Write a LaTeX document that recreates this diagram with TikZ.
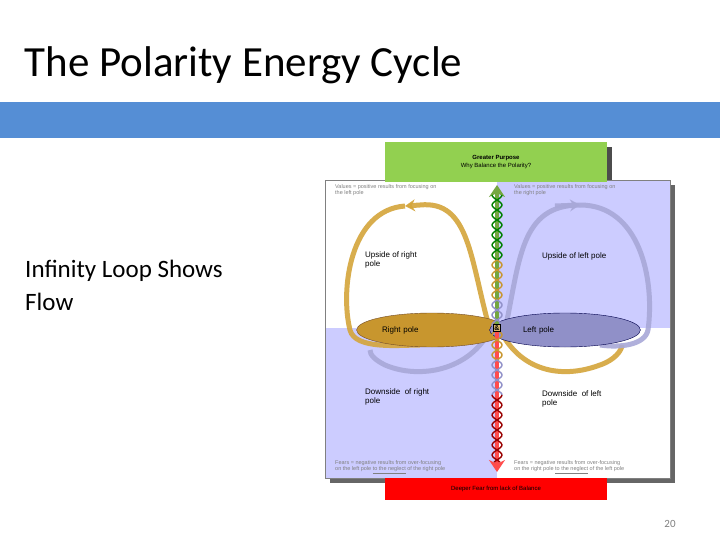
\documentclass[tikz,border=0pt]{standalone}
\usepackage{fontspec}
\usetikzlibrary{arrows.meta,shapes.geometric}
\setmainfont{Carlito}
\newfontfamily\sm{Liberation Sans}
\definecolor{barblue}{HTML}{558ED5}
\definecolor{lav}{HTML}{CCCCFF}
\definecolor{lavd}{HTML}{A8A8D8}
\definecolor{gold}{HTML}{D4A53A}
\definecolor{goldd}{HTML}{C8962E}
\definecolor{grn}{HTML}{92D050}
\definecolor{lpole}{HTML}{9090C8}
\begin{document}
\begin{tikzpicture}[x=1pt,y=-1pt,
  tiny/.style={font=\sm\fontsize{5.5}{6}\selectfont,align=left,anchor=north west,inner sep=0},
  lab/.style={font=\sm\fontsize{8}{9}\selectfont,align=left,anchor=north west,inner sep=0},
  loopg/.style={draw=gold,line width=5pt,opacity=.9},
  loopl/.style={draw=lavd,line width=5pt,opacity=.9}]
\useasboundingbox (0,0) rectangle (720,540);
\fill[white] (0,0) rectangle (720,540);
\node[anchor=west,font=\fontsize{43}{45}\selectfont] (title) at (21,65) {The Polarity Energy Cycle};
\fill[barblue] (0,102) rectangle (720,138);
\node[anchor=north west,align=left,font=\fontsize{25}{33}\selectfont,inner sep=0] (body) at (25,260) {Infinity Loop Shows\\Flow};
% shadows
\fill[black!60] (330,185) rectangle (675,483);
\fill[black!70] (390,147) rectangle (612,185);
% quadrants
\fill[white] (325,180) rectangle (497,328);
\fill[lav] (497,180) rectangle (670,328);
\fill[lav] (325,328) rectangle (497,478);
\fill[white] (497,328) rectangle (670,478);
\draw[gray] (325,180) rectangle (670,478);
% boxes
\node[fill=grn,minimum width=222pt,minimum height=40pt,font=\sm\fontsize{6}{8}\selectfont,align=center] (gp) at (496,162) {\textbf{Greater Purpose}\\Why Balance the Polarity?};
\node[fill=red,minimum width=222pt,minimum height=22pt,font=\sm\fontsize{6}{8}\selectfont] (df) at (496,489) {Deeper Fear from lack of Balance};
% loops
\draw[loopg] (490,330) .. controls (470,260) and (470,200) .. (420,205);
\draw[loopg,-{Stealth[length=10pt,width=12pt]}] (420,205) -- (405,206);
\draw[loopg] (405,206) .. controls (350,210) and (340,290) .. (350,330) .. controls (355,350) and (400,345) .. (420,345);
\draw[loopg] (500,330) .. controls (520,370) and (560,380) .. (600,365) .. controls (615,360) and (622,350) .. (622,345);
\draw[loopl] (505,330) .. controls (520,260) and (520,205) .. (580,205);
\draw[loopl,-{Stealth[length=10pt,width=12pt]}] (555,206) -- (580,205);
\draw[loopl] (580,205) .. controls (640,205) and (655,280) .. (648,330) .. controls (645,345) and (620,348) .. (600,345);
\draw[loopl] (490,330) .. controls (470,370) and (420,380) .. (385,365) .. controls (375,360) and (370,355) .. (370,350);
% poles
\node[ellipse,fill=goldd,draw=brown!60!black,minimum width=130pt,minimum height=34pt,font=\sm\fontsize{8}{9}\selectfont,text width=100pt] (rp) at (432,330) {Right pole};
\node[ellipse,fill=lpole,draw=blue!30!black,minimum width=130pt,minimum height=34pt,font=\sm\fontsize{8}{9}\selectfont,text width=100pt] (lp) at (565,330) {\quad Left pole};
% center arrow with helix
\draw[grn!80!black,line width=4pt,-{Stealth[length=12pt,width=16pt]}] (497,328) -- (497,185);
\draw[red!70,line width=4pt,-{Stealth[length=12pt,width=16pt]}] (497,328) -- (497,472);
\foreach \ya/\yb/\c in {195/260/green!50!black,260/300/goldd,300/328/lpole,328/360/goldd,360/395/lpole,395/462/red!60!black}{
  \draw[\c,line width=1.4pt,domain=\ya:\yb,samples=40,variable=\t] plot ({497+5*sin(\t*18)},\t);
  \draw[\c,line width=1.4pt,domain=\ya:\yb,samples=40,variable=\t] plot ({497-5*sin(\t*18)},\t);
}
\node[draw=black,fill=goldd!70,inner sep=1pt,font=\sm\fontsize{7}{8}\selectfont] (amp) at (497,328) {\textbf{\&}};
% labels
\node[tiny,text=gray] (v1) at (335,184) {Values = positive results from focusing on\\the left pole};
\node[tiny,text=gray] (v2) at (514,184) {Values = positive results from focusing on\\the right pole};
\node[lab] (u1) at (365,252) {Upside of right\\pole};
\node[lab] (u2) at (542,253) {Upside of left pole};
\node[lab] (d1) at (365,389) {Downside\ \ of right\\pole};
\node[lab] (d2) at (542,391) {Downside\ \ of left\\pole};
\node[tiny,text=gray] (f1) at (335,460) {Fears = negative results from over-focusing\\on the left pole \underline{to the neglect} of the right pole};
\node[tiny,text=gray] (f2) at (514,460) {Fears = negative results from over-focusing\\on the right pole \underline{to the neglect} of the left pole};
\node[font=\fontsize{11}{12}\selectfont,text=gray] (pg) at (670,524) {20};
\end{tikzpicture}
\end{document}
